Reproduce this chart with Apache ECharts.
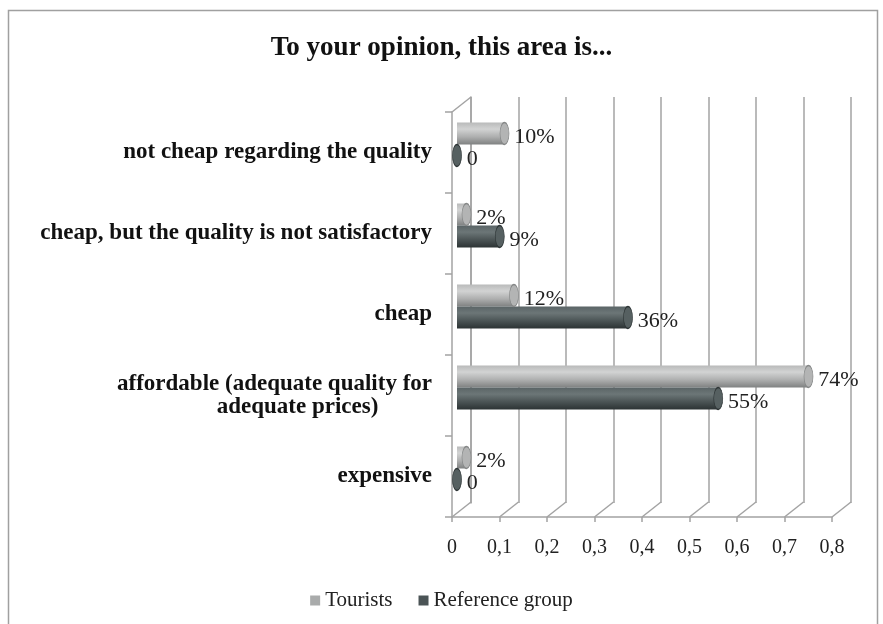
<!DOCTYPE html>
<html>
<head>
<meta charset="utf-8">
<title>To your opinion, this area is...</title>
<script src="https://cdn.jsdelivr.net/npm/echarts@6.0.0/dist/echarts.min.js"></script>
<style>
  html, body { margin: 0; padding: 0; background: #fff; }
  #chart { width: 883px; height: 624px; }
</style>
</head>
<body>
<div id="chart"></div>
<script>
// values (shares of respondents)
var categories = [
  'not cheap regarding the quality',
  'cheap, but the quality is not satisfactory',
  'cheap',
  'affordable (adequate quality for\nadequate prices)',
  'expensive'
];
var tourists = [0.10, 0.02, 0.12, 0.74, 0.02];
var referenceGroup = [0, 0.09, 0.36, 0.55, 0];
var xTicks = [0, 0.1, 0.2, 0.3, 0.4, 0.5, 0.6, 0.7, 0.8];

var serif = '"Liberation Serif", "Times New Roman", serif';
var wallColor = '#a3a3a3';
var depthX = 19, depthY = -15; // fake 3d depth of the walls

var chart = echarts.init(document.getElementById('chart'));

function pct(p) {
  var v = p.value[0];
  return v === 0 ? '0' : Math.round(v * 100) + '%';
}

function pairs(arr) {
  return arr.map(function (v, i) { return [v, categories[i]]; });
}

var catFont = { fontFamily: serif, fontWeight: 'bold', fontSize: 23, color: '#111', lineHeight: 23 };

var option = {
  animation: false,
  backgroundColor: '#fff',
  title: {
    text: 'To your opinion, this area is...',
    left: 'center',
    top: 30,
    textStyle: { fontFamily: serif, fontWeight: 'bold', fontSize: 27, color: '#111' }
  },
  legend: {
    bottom: 8,
    left: 'center',
    icon: 'rect',
    itemWidth: 10,
    itemHeight: 10,
    itemGap: 26,
    textStyle: { fontFamily: serif, fontSize: 21, color: '#222' },
    data: [
      { name: 'Tourists', itemStyle: { color: '#a9abab' } },
      { name: 'Reference group', itemStyle: { color: '#4b5456' } }
    ]
  },
  graphic: [{
    type: 'rect',
    silent: true,
    shape: { x: 8.5, y: 10.5, width: 869, height: 640 },
    style: { fill: 'none', stroke: '#a0a0a0', lineWidth: 1.5 }
  }],
  grid: [
    // back wall
    { left: 471, top: 97, width: 380, height: 406 },
    // front edges, labels
    { left: 452, top: 112, width: 380, height: 405 },
    // bars, in the middle of the depth
    { left: 457, top: 104, width: 380, height: 405 }
  ],
  xAxis: [
    {
      gridIndex: 0, type: 'value', min: 0, max: 0.8, interval: 0.1,
      axisLine: { show: false }, axisTick: { show: false }, axisLabel: { show: false },
      splitLine: { show: true, lineStyle: { color: wallColor, width: 1.5 } }
    },
    {
      gridIndex: 1, type: 'value', min: 0, max: 0.8, interval: 0.1,
      axisLine: { show: true, lineStyle: { color: wallColor, width: 1.5 } },
      axisTick: { show: true, length: 5, lineStyle: { color: wallColor, width: 1.5 } },
      splitLine: { show: false },
      axisLabel: {
        margin: 21,
        fontFamily: serif, fontSize: 20, color: '#222',
        formatter: function (v) { return String(Math.round(v * 10) / 10).replace('.', ','); }
      }
    },
    {
      gridIndex: 2, type: 'value', min: 0, max: 0.8, show: false
    }
  ],
  yAxis: [
    {
      gridIndex: 0, type: 'category', data: categories, inverse: true,
      axisLine: { show: true, lineStyle: { color: wallColor, width: 1.5 } },
      axisTick: { show: false }, axisLabel: { show: false }, splitLine: { show: false }
    },
    {
      gridIndex: 1, type: 'category', data: categories, inverse: true,
      axisLine: { show: true, lineStyle: { color: wallColor, width: 1.5 } },
      axisTick: { show: true, length: 7, lineStyle: { color: wallColor, width: 1.5 } },
      axisLabel: Object.assign({
        margin: 20,
        formatter: function (v) {
          if (v.indexOf('\n') < 0) return v;
          var p = v.split('\n');
          return '{a|' + p[0] + '}\n{b|' + p[1] + '}';
        },
        rich: {
          a: catFont,
          b: Object.assign({ align: 'center', padding: [0, 0, 0, 46] }, catFont)
        }
      }, catFont)
    },
    {
      gridIndex: 2, type: 'category', data: categories, inverse: true, show: false
    }
  ],
  series: [
    {
      // floor and wall diagonals
      type: 'custom',
      xAxisIndex: 1, yAxisIndex: 1,
      silent: true,
      z: 1,
      data: xTicks.map(function (v) { return [v, 0]; }),
      encode: { x: 0, y: 1 },
      renderItem: function (params, api) {
        var cs = params.coordSys;
        var x = api.coord([api.value(0), 0])[0];
        var yb = cs.y + cs.height;
        var style = { stroke: wallColor, lineWidth: 1.5 };
        var kids = [{ type: 'line', shape: { x1: x, y1: yb, x2: x + depthX, y2: yb + depthY }, style: style }];
        if (params.dataIndex === 0) {
          kids.push({ type: 'line', shape: { x1: cs.x, y1: cs.y, x2: cs.x + depthX, y2: cs.y + depthY }, style: style });
        }
        return { type: 'group', children: kids };
      }
    },
    {
      name: 'Tourists',
      type: 'bar',
      xAxisIndex: 2, yAxisIndex: 2,
      data: tourists,
      barWidth: 22,
      barGap: '0%',
      z: 3,
      itemStyle: {
        color: new echarts.graphic.LinearGradient(0, 0, 0, 1, [
          { offset: 0, color: '#b9baba' },
          { offset: 0.3, color: '#d2d3d3' },
          { offset: 0.65, color: '#aeafaf' },
          { offset: 1, color: '#7f8181' }
        ])
      }
    },
    {
      name: 'Reference group',
      type: 'bar',
      xAxisIndex: 2, yAxisIndex: 2,
      data: referenceGroup,
      barWidth: 22,
      barGap: '0%',
      z: 3,
      itemStyle: {
        color: new echarts.graphic.LinearGradient(0, 0, 0, 1, [
          { offset: 0, color: '#5a6466' },
          { offset: 0.3, color: '#6c7677' },
          { offset: 0.65, color: '#4b5455' },
          { offset: 1, color: '#2c3334' }
        ])
      }
    },
    {
      // cylinder caps + value labels
      name: 'Tourists',
      type: 'scatter',
      xAxisIndex: 2, yAxisIndex: 2,
      data: pairs(tourists),
      symbol: 'circle',
      symbolSize: [9, 22],
      symbolOffset: [0, -11],
      z: 4,
      itemStyle: { color: '#b3b4b4', borderColor: '#858787', borderWidth: 1, opacity: 1 },
      label: {
        show: true, position: 'right', distance: 5, offset: [0, 4],
        fontFamily: serif, fontSize: 22, color: '#222',
        formatter: pct
      }
    },
    {
      name: 'Reference group',
      type: 'scatter',
      xAxisIndex: 2, yAxisIndex: 2,
      data: pairs(referenceGroup),
      symbol: 'circle',
      symbolSize: [9, 22],
      symbolOffset: [0, 11],
      z: 4,
      itemStyle: { color: '#566061', borderColor: '#2f3637', borderWidth: 1, opacity: 1 },
      label: {
        show: true, position: 'right', distance: 5, offset: [0, 4],
        fontFamily: serif, fontSize: 22, color: '#222',
        formatter: pct
      }
    }
  ]
};

chart.setOption(option);
</script>
</body>
</html>
